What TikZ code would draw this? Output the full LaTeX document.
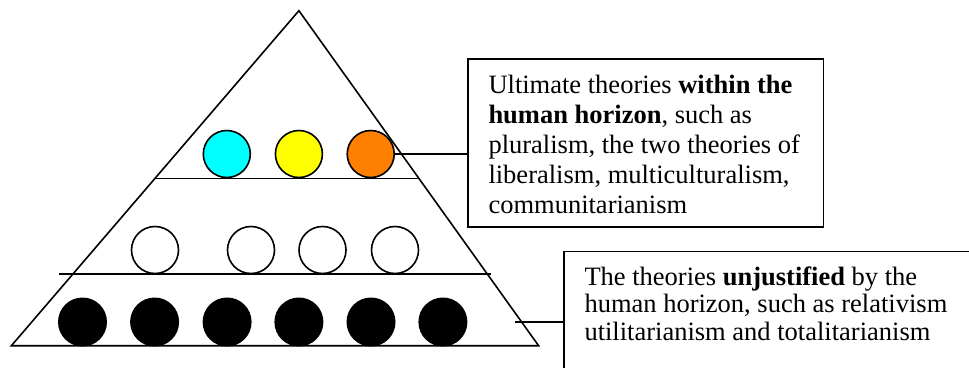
\documentclass[tikz,border=0pt]{standalone}
\usepackage{fontspec}
\setmainfont{Liberation Serif}
\begin{document}
\begin{tikzpicture}[x=1pt,y=-1pt,
  ln/.style={line width=1.6pt},
  ball/.style={draw, line width=1.6pt, circle, minimum size=47pt, inner sep=0pt},
  blackball/.style={fill=black, circle, minimum size=49pt, inner sep=0pt},
  frame/.style={draw, line width=1.6pt, rectangle, inner sep=0pt, anchor=north west},
  txt/.style={anchor=base west, inner sep=0pt}]
\definecolor{cyanball}{RGB}{0,255,255}
\definecolor{yellowball}{RGB}{255,255,0}
\definecolor{orangeball}{RGB}{255,128,0}
\useasboundingbox (0,0) rectangle (969,367);
\clip (0,0) rectangle (969,367);
% pyramid
\coordinate (apex) at (298.9,10.7);
\coordinate (bl) at (11.4,345.7);
\coordinate (br) at (538.6,345.7);
\draw[ln, line join=miter] (apex) -- (bl) -- (br) -- cycle;
\coordinate (s1a) at (154.8,178.3);
\coordinate (s1b) at (419.2,178.3);
\coordinate (s2a) at (58.9,274);
\coordinate (s2b) at (491,274);
\draw[ln] (s1a) -- (s1b);
\draw[ln] (s2a) -- (s2b);
% top row
\node[ball, fill=cyanball] (c1) at (226.8,154) {};
\node[ball, fill=yellowball] (c2) at (298.9,154) {};
\node[ball, fill=orangeball] (c3) at (370.7,154) {};
% middle row
\node[ball, fill=white] (m1) at (155,250) {};
\node[ball, fill=white] (m2) at (251,250) {};
\node[ball, fill=white] (m3) at (322.5,250) {};
\node[ball, fill=white] (m4) at (395,250) {};
% bottom row
\node[blackball] (b1) at (82.5,322) {};
\node[blackball] (b2) at (154.6,322) {};
\node[blackball] (b3) at (227.1,322) {};
\node[blackball] (b4) at (298.9,322) {};
\node[blackball] (b5) at (371,322) {};
\node[blackball] (b6) at (442.9,322) {};
% boxes
\node[frame, minimum width=355.4pt, minimum height=167.7pt] (box1) at (467.3,58.3) {};
\node[frame, minimum width=420pt, minimum height=140pt] (box2) at (563.3,250.7) {};
\node[txt] (t1) at (488.3,93.3) {\parbox[t]{330pt}{\fontsize{26.5}{30}\selectfont
Ultimate theories \textbf{within the}\\
\textbf{human horizon}, such as\\
pluralism, the two theories of\\
liberalism, multiculturalism,\\
communitarianism}};
\node[txt] (t2) at (584.3,285) {\parbox[t]{380pt}{\fontsize{26.5}{27.5}\selectfont
The theories \textbf{unjustified} by the\\
human horizon, such as relativism\\
utilitarianism and totalitarianism}};
% connectors
\draw[ln] (c3.east) -- (c3.east -| box1.west);
\coordinate (p2) at (515.4,321.7);
\draw[ln] (p2) -- (p2 -| box2.west);
\end{tikzpicture}
\end{document}
